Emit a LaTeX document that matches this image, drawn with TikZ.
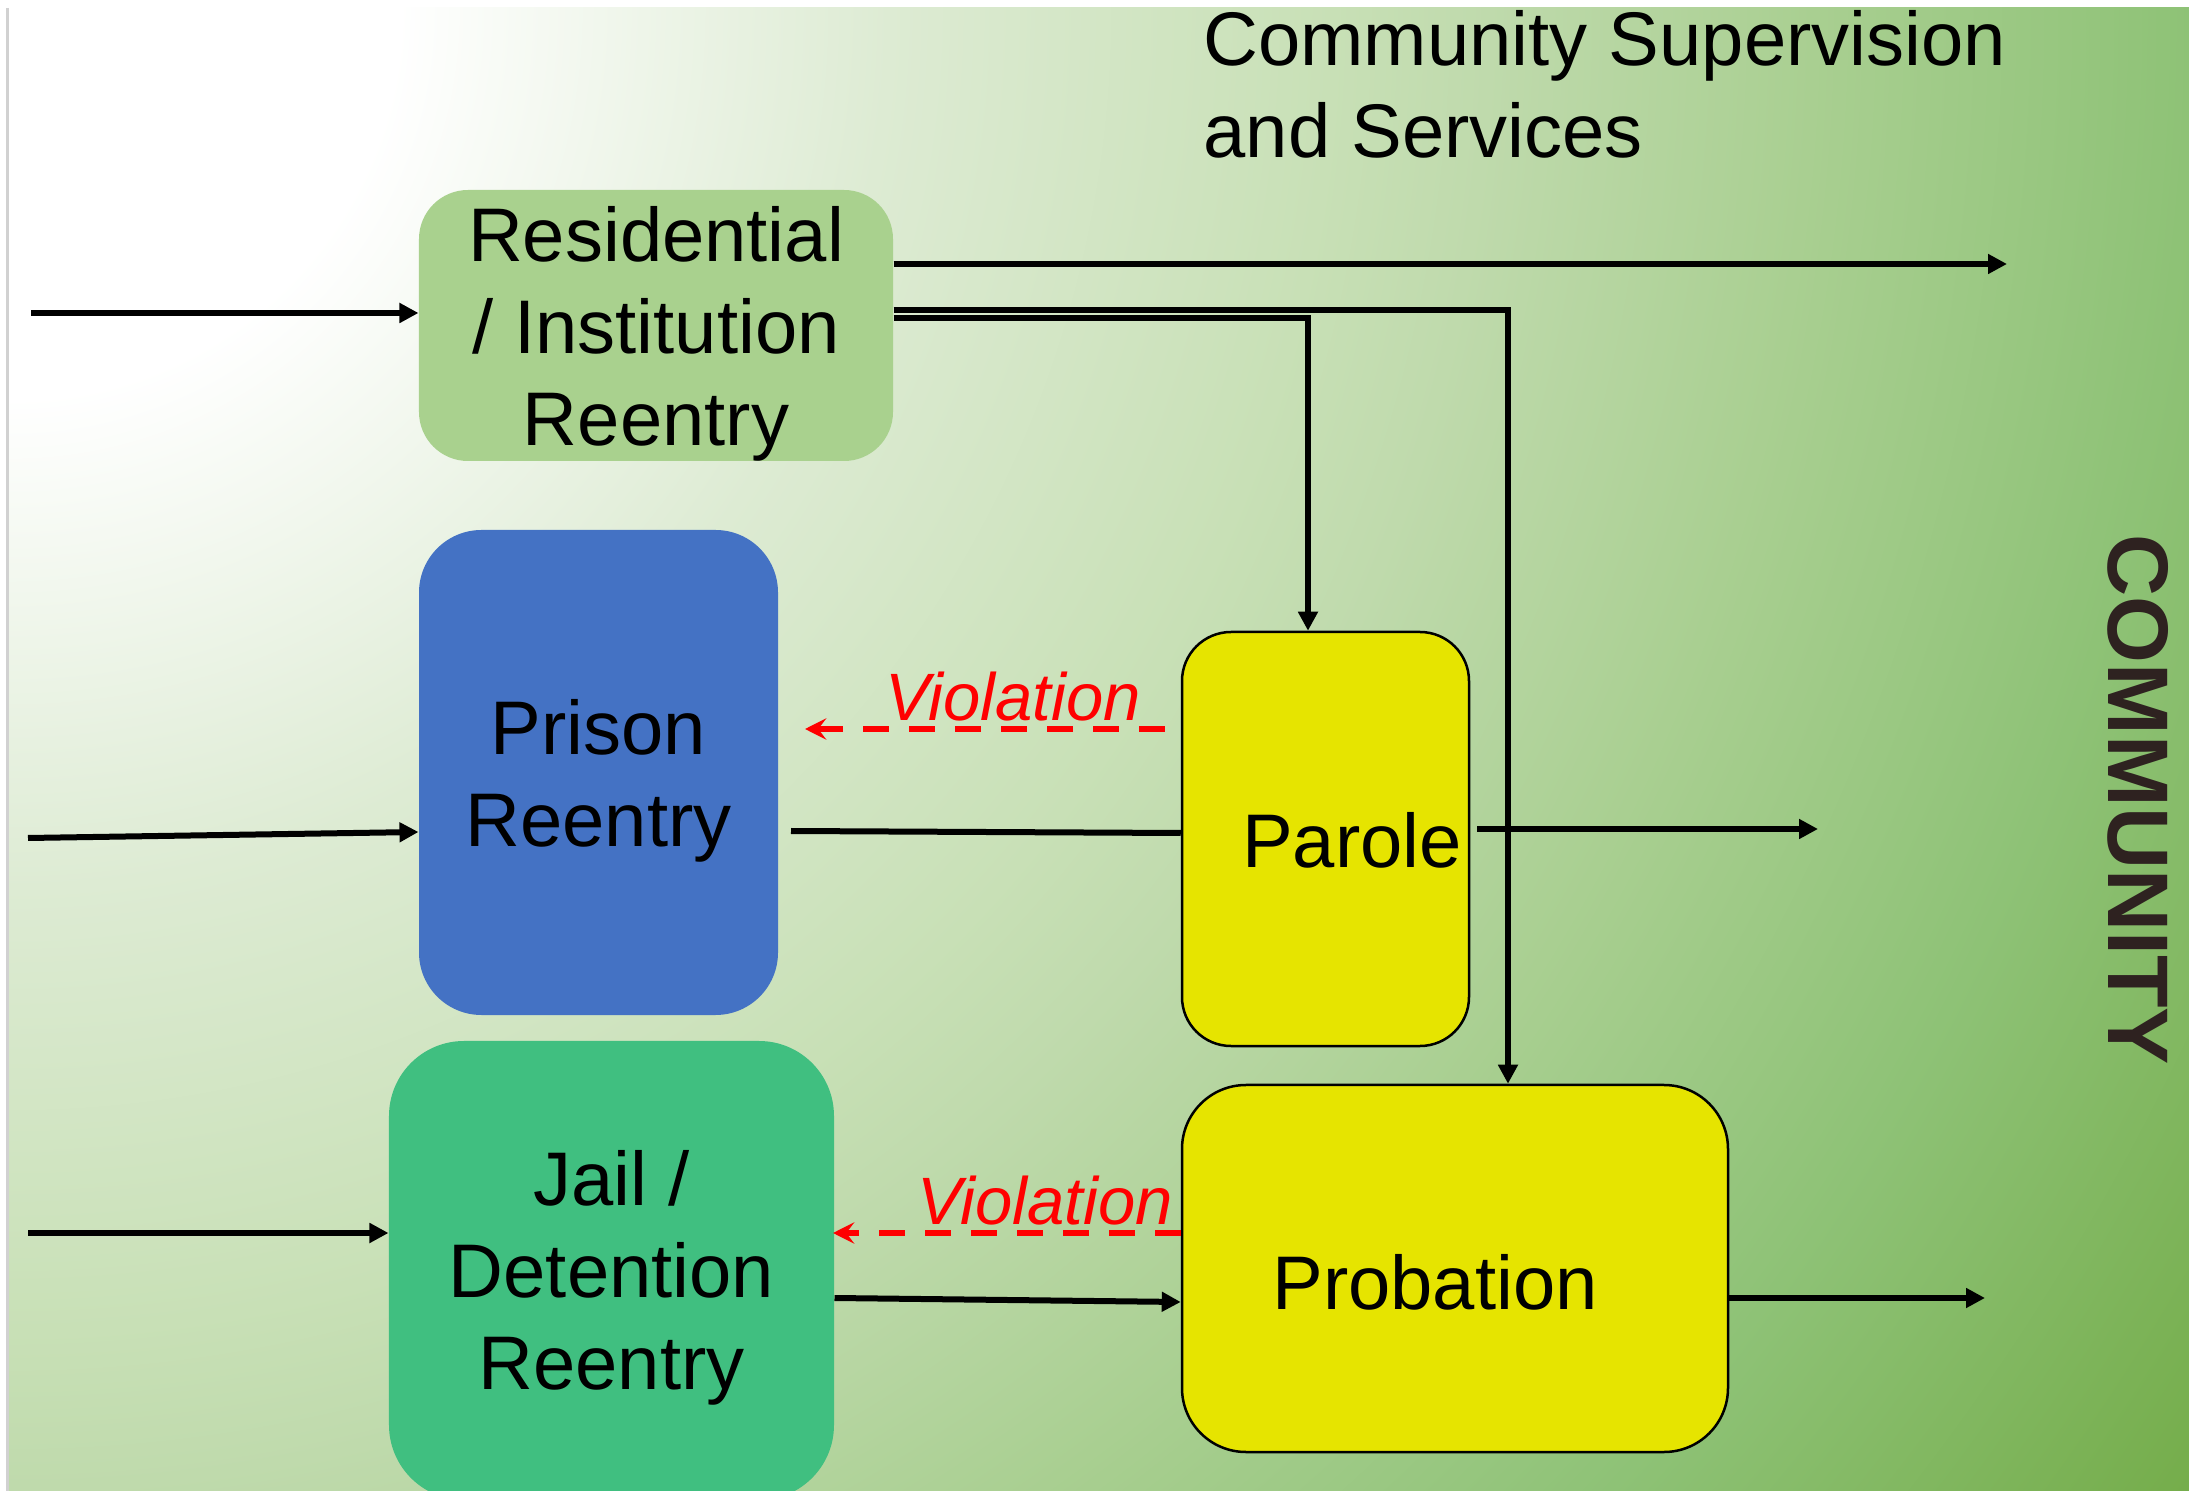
\documentclass[tikz,border=0pt]{standalone}
\usepackage{fontspec}
\setmainfont{Liberation Sans}
\usetikzlibrary{arrows.meta,calc}
\definecolor{bgA}{HTML}{DDEBD3}
\definecolor{bgB}{HTML}{C8E0B6}
\definecolor{bgC}{HTML}{BFDAAC}
\definecolor{bgD}{HTML}{A9CF91}
\definecolor{bgE}{HTML}{8EC276}
\definecolor{bgF}{HTML}{75AD4B}
\definecolor{resgreen}{HTML}{A9D18E}
\definecolor{prisblue}{HTML}{4472C4}
\definecolor{jailgreen}{HTML}{40BF80}
\definecolor{yel}{HTML}{E6E400}
\definecolor{commc}{HTML}{2E2220}
\pgfdeclareradialshading{bgrad}{\pgfpoint{0bp}{0bp}}{color(0bp)=(white); color(3.6bp)=(white); color(8.15bp)=(bgA); color(12.25bp)=(bgB); color(13.7bp)=(bgC); color(16.7bp)=(bgD); color(20.2bp)=(bgE); color(24.4bp)=(bgF); color(50bp)=(bgF)}
\newcommand\bigtxt{\fontsize{30.4}{36.8}\selectfont}
\tikzset{
  flow/.style={line width=2.4pt, -{Triangle[length=7.6pt,width=7.6pt]}},
  plainline/.style={line width=2.4pt},
  viol/.style={red, line width=2.2pt, dash pattern=on 10.4pt off 8pt, -{Stealth[length=8.5pt,width=8.5pt,inset=3.2pt]}},
  viotxt/.style={text=red, font=\fontsize{26.8}{32}\selectfont\itshape, anchor=base, inner sep=0pt},
  maintxt/.style={font=\bigtxt, inner sep=0pt},
  reentry/.style={font=\bigtxt, align=center, inner sep=0pt},
  ybox/.style={draw=black, line width=1pt, fill=yel, inner sep=0pt},
}
\begin{document}
\begin{tikzpicture}[x=0.4pt,y=-0.4pt]
\useasboundingbox (0,0) rectangle (2189,1491);
\fill[white] (0,0) rectangle (2189,1491);
\begin{scope}
\clip (9,8) rectangle (2189,1491);
\shade[shading=bgrad] (9,8) circle [radius=2700];
\end{scope}
\draw[line width=1.2pt, black!18] (7.5,8) -- (7.5,1491);

% boxes
\node[fill=resgreen, rounded corners=19.6pt, minimum width=189.6pt, minimum height=108.4pt, inner sep=0pt] (res) at (656,325.5) {};
\node[fill=prisblue, rounded corners=25pt, minimum width=143.6pt, minimum height=194pt, inner sep=0pt] (prison) at (598.5,772.5) {};
\node[fill=jailgreen, rounded corners=30pt, minimum width=178pt, minimum height=183.6pt, inner sep=0pt] (jail) at (611.5,1270.5) {};
\node[ybox, rounded corners=19.6pt, minimum width=114.8pt, minimum height=165.6pt] (parole) at (1325.5,839) {};
\node[ybox, rounded corners=25.6pt, minimum width=218.4pt, minimum height=146.8pt] (prob) at (1455,1268.5) {};

% box texts
\node[reentry] (restxt) at (656,334) {Residential\\/ Institution\\Reentry};
\node[reentry] (prisontxt) at (598.5,781) {Prison\\Reentry};
\node[reentry] (jailtxt) at (611.5,1278) {Jail /\\Detention\\Reentry};
\node[maintxt, anchor=base] (paroletxt) at (1352,868) {Parole};
\node[maintxt, anchor=base] (probtxt) at (1435,1309) {Probation};

% heading and side label
\node[maintxt, anchor=base west] (head1) at (1203,66) {Community Supervision};
\node[maintxt, anchor=base west] (head2) at (1203,158) {and Services};
\node[font=\fontsize{34.4}{40}\selectfont\bfseries, text=commc, rotate=-90, inner sep=0pt] (comm) at (2138,800) {COMMUNITY};

% coordinates
\coordinate (i1) at (31,313);
\coordinate (i2) at (28,838);
\coordinate (i2e) at (0,832);
\coordinate (i3) at (28,1233);
\coordinate (o1) at (2007,264);
\coordinate (k1) at (1508,310);
\coordinate (k2) at (1308,318);
\coordinate (a7s) at (791,831);
\coordinate (a7e) at (0,833);
\coordinate (o2) at (1818,829);
\coordinate (a9s) at (0,1298);
\coordinate (a9e) at (0,1302);
\coordinate (o3) at (1985,1298);
\coordinate (v1) at (805,729);
\coordinate (v2) at (833,1233);

% connectors
\draw[flow] (i1) -- (i1 -| res.west);
\draw[flow] (i2) -- (prison.west |- i2e);
\draw[flow] (i3) -- (i3 -| jail.west);
\draw[flow] (res.east |- o1) -- (o1);
\draw[flow] (res.east |- k1) -- (k1) -- (k1 |- prob.north);
\draw[flow] (res.east |- k2) -- (k2) -- (k2 |- parole.north);
\draw[plainline] (a7s) -- (parole.west |- a7e);
\draw[flow] ([xshift=2.8pt]parole.east |- o2) -- (o2);
\draw[flow] (jail.east |- a9s) -- (prob.west |- a9e);
\draw[flow] (prob.east |- o3) -- (o3);
\draw[viol] ([xshift=-6.4pt]parole.west |- v1) -- (v1);
\draw[viol] (prob.west |- v2) -- (v2);

% labels
\node[viotxt] (vl1) at (1013,721) {Violation};
\node[viotxt] (vl2) at (1045,1224) {Violation};
\end{tikzpicture}
\end{document}
